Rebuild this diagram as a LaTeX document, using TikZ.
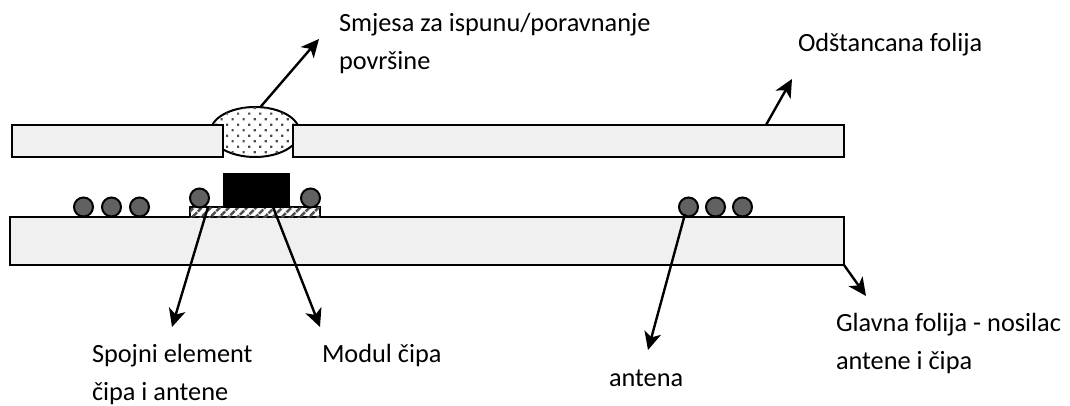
\documentclass[tikz,border=0pt]{standalone}
\usepackage{fontspec}
\setmainfont{Carlito}
\usetikzlibrary{arrows.meta, patterns.meta, shapes.geometric}

\tikzset{
    foil/.style = {draw, line width=2pt, fill=black!6, inner sep=0pt, outer sep=0pt, anchor=north west},
    bead/.style = {circle, draw, line width=2pt, fill=black!62, inner sep=0pt, outer sep=0pt, minimum size=19pt},
    pointer/.style = {line width=2.4pt, -{Stealth[length=18pt, width=17pt, inset=5pt]}},
    caption/.style = {anchor=base west, inner sep=0pt, outer sep=0pt, align=left, font=\fontsize{26.3}{38}\selectfont}
}

\begin{document}
\begin{tikzpicture}[x=1pt, y=-1pt]
    \useasboundingbox (0, 0) rectangle (1070, 406);

    \node [ellipse, draw, line width=2pt, fill=white, inner sep=0pt, outer sep=0pt, minimum width=89pt, minimum height=50pt, postaction={pattern={Dots[radius=1.5pt, distance=7.8pt, angle=45, xshift=1pt]}, pattern color=black!70}] (filler) at (255, 132) {};
    \node [foil, minimum width=211pt, minimum height=32pt] (leftfoil) at (12, 125) {};
    \node [foil, minimum width=551pt, minimum height=32pt] (topfoil) at (293, 125) {};
    \node [foil, minimum width=834pt, minimum height=48pt] (mainfoil) at (10, 217) {};

    \node [draw, line width=2pt, fill=white, inner sep=0pt, outer sep=0pt, anchor=north west, minimum width=130pt, minimum height=10pt, postaction={pattern={Lines[angle=45, distance=6.5pt, line width=2.8pt]}, pattern color=black!70}] (bond) at (190, 207) {};
    \node [draw, fill=black, inner sep=0pt, outer sep=0pt, anchor=north west, minimum width=66pt, minimum height=34pt] (chip) at (223, 173) {};

    \node [bead] (a1) at (83.5, 207) {};
    \node [bead] (a2) at (111.5, 207) {};
    \node [bead] (a3) at (139.5, 207) {};
    \node [bead] (b1) at (199.5, 198) {};
    \node [bead] (b2) at (310.5, 198) {};
    \node [bead] (c1) at (688.5, 207) {};
    \node [bead] (c2) at (715.5, 207) {};
    \node [bead] (c3) at (742.5, 207) {};

    \node [caption] (fillertext) at (339, 69.5) {Smjesa za ispunu/poravnanje\\površine};
    \node [caption] (foiltext) at (798, 52) {Odštancana folija};
    \node [caption] (bondtext) at (92, 400) {Spojni element\\čipa i antene};
    \node [caption] (chiptext) at (322, 362) {Modul čipa};
    \node [caption] (antennatext) at (609, 386) {antena};
    \node [caption] (maintext) at (836, 369) {Glavna folija - nosilac\\antene i čipa};

    \coordinate (fillertip) at (319, 39);
    \coordinate (foilstart) at (766, 125);
    \coordinate (foiltip) at (792, 79);
    \coordinate (bondstart) at (208, 207);
    \coordinate (bondtip) at (172, 327);
    \coordinate (chipstart) at (273, 207);
    \coordinate (chiptip) at (320, 327);
    \coordinate (antennastart) at (685, 214);
    \coordinate (antennatip) at (648, 350);
    \coordinate (maintip) at (866, 296);

    \draw [pointer] (filler.78) -- (fillertip);
    \draw [pointer] (foilstart) -- (foiltip);
    \draw [pointer] (bondstart) -- (bondtip);
    \draw [pointer] (chipstart) -- (chiptip);
    \draw [pointer] (antennastart) -- (antennatip);
    \draw [pointer] (mainfoil.south east) -- (maintip);
\end{tikzpicture}
\end{document}
